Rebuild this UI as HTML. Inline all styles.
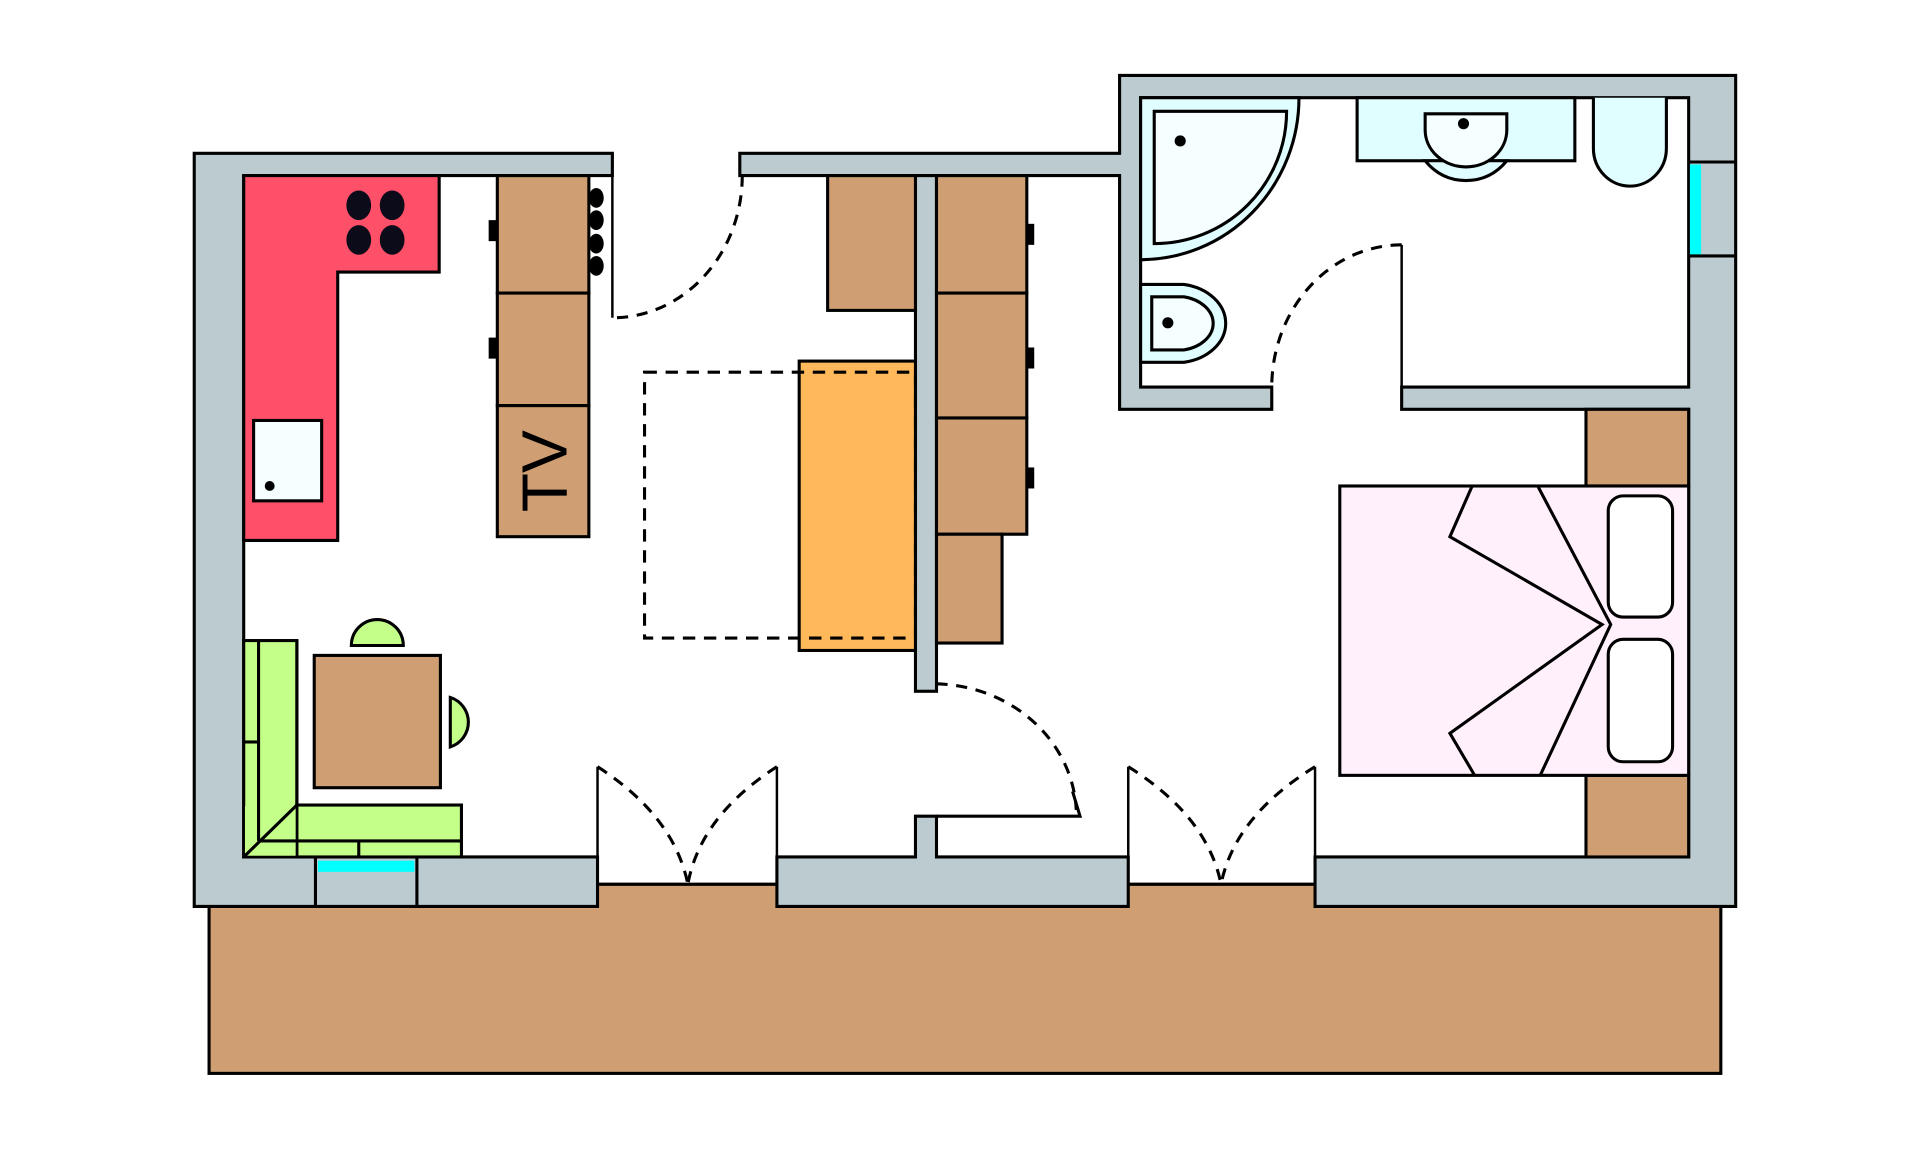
<!DOCTYPE html>
<html><head><meta charset="utf-8"><style>
html,body{margin:0;padding:0;background:#fff;}
svg{display:block;}
</style></head><body>
<svg width="1920" height="1155" viewBox="0 0 1552 934" preserveAspectRatio="none" xmlns="http://www.w3.org/2000/svg">
<g stroke="#000" stroke-width="2.5" stroke-linejoin="miter">
<rect x="169" y="715" width="1222" height="153" fill="#CF9E72"/>
<rect x="197" y="142" width="1168" height="551" fill="#fff" stroke="none"/>
<rect x="922" y="79" width="443" height="240" fill="#fff" stroke="none"/>
<rect x="483" y="680" width="145" height="34" fill="#fff" stroke="none"/>
<rect x="912" y="680" width="151" height="34" fill="#fff" stroke="none"/>
<line x1="483" y1="715" x2="628" y2="715"/>
<line x1="912" y1="715" x2="1063" y2="715"/>

<polygon points="157,124 495,124 495,142 197,142 197,693 483,693 483,733 157,733" fill="#BBCBCF"/>
<rect x="257" y="696" width="78" height="9" fill="#00FFFF" stroke="none"/>
<line x1="255" y1="693" x2="255" y2="733"/>
<line x1="337" y1="693" x2="337" y2="733"/>
<line x1="495" y1="142" x2="495" y2="257" stroke-width="2"/>
<path d="M600,142 A105,115 0 0 1 495,257" fill="none" stroke-dasharray="9,7" stroke-width="2.5"/>

<polygon points="598,124 905,124 905,61 1403,61 1403,733 1063,733 1063,693 1365,693 1365,331 1133,331 1133,313 1365,313 1365,79 922,79 922,313 1028,313 1028,331 905,331 905,142 598,142" fill="#BBCBCF"/>
<rect x="1366" y="133" width="9" height="73" fill="#00FFFF" stroke="none"/>
<line x1="1365" y1="131" x2="1403" y2="131"/>
<line x1="1365" y1="207" x2="1403" y2="207"/>
<line x1="1133" y1="198" x2="1133" y2="313" stroke-width="2"/>
<path d="M1133,198 A105,115 0 0 0 1028,313" fill="none" stroke-dasharray="9,7"/>

<rect x="740" y="142" width="17" height="417" fill="#BBCBCF"/>

<polygon points="628,693 740,693 740,660 757,660 757,693 912,693 912,733 628,733" fill="#BBCBCF"/>
<polyline points="757,660 873,660 867,640" fill="none"/>
<path d="M757,553 A116,107 0 0 1 870,655" fill="none" stroke-dasharray="9,7"/>

<g fill="none" stroke-width="2">
<line x1="483" y1="620" x2="483" y2="693"/>
<line x1="628" y1="620" x2="628" y2="693"/>
<line x1="912" y1="620" x2="912" y2="693"/>
<line x1="1063" y1="620" x2="1063" y2="693"/>
</g>
<g fill="none" stroke-dasharray="9,7">
<path d="M483,620 Q545,660 556,715"/>
<path d="M628,620 Q566,660 556,715"/>
<path d="M912,620 Q976,660 987,715"/>
<path d="M1063,620 Q998,660 987,715"/>
</g>

<polygon points="197,142 355,142 355,220 273,220 273,437 197,437" fill="#FF5069"/>
<g fill="#0b0b1a" stroke="none">
<ellipse cx="290" cy="166" rx="10" ry="12"/><ellipse cx="317" cy="166" rx="10" ry="12"/>
<ellipse cx="290" cy="194" rx="10" ry="12"/><ellipse cx="317" cy="194" rx="10" ry="12"/>
</g>
<rect x="205" y="340" width="55" height="65" fill="#F5FFFF"/>
<circle cx="218" cy="393" r="4" fill="#000" stroke="none"/>

<g fill="#CF9E72">
<rect x="402" y="142" width="74" height="95"/>
<rect x="402" y="237" width="74" height="91"/>
<rect x="402" y="328" width="74" height="106"/>
<rect x="669" y="142" width="71" height="109"/>
<rect x="757" y="142" width="73" height="95"/>
<rect x="757" y="237" width="73" height="101"/>
<rect x="757" y="338" width="73" height="94"/>
<rect x="757" y="432" width="53" height="88"/>
</g>
<g fill="#000" stroke="none">
<rect x="395" y="178" width="6" height="17"/><rect x="395" y="273" width="6" height="17"/>
<rect x="830" y="181" width="6" height="17"/><rect x="830" y="281" width="6" height="17"/><rect x="830" y="378" width="6" height="17"/>
<ellipse cx="482" cy="160" rx="6" ry="8"/><ellipse cx="482" cy="178" rx="6" ry="8"/>
<ellipse cx="482" cy="197" rx="6" ry="8"/><ellipse cx="482" cy="215" rx="6" ry="8"/>
</g>
<text x="0" y="0" transform="translate(458,381) rotate(-90)" text-anchor="middle" font-family="Liberation Sans, sans-serif" font-size="52" fill="#000" stroke="none">TV</text>

<rect x="646" y="292" width="94" height="234" fill="#FFB85A"/>
<rect x="521" y="301" width="219" height="215" fill="none" stroke-dasharray="10,7"/>

<rect x="197" y="518" width="43" height="175" fill="#C4FF8A"/>
<rect x="240" y="651" width="133" height="42" fill="#C4FF8A"/>
<rect x="198" y="652" width="41" height="40" fill="#C4FF8A" stroke="none"/>
<line x1="209" y1="518" x2="209" y2="680"/>
<line x1="197" y1="600" x2="209" y2="600"/>
<line x1="209" y1="680" x2="373" y2="680"/>
<line x1="290" y1="680" x2="290" y2="693"/>
<line x1="240" y1="651" x2="197" y2="693"/>
<line x1="240" y1="518" x2="240" y2="651"/>
<rect x="254" y="530" width="102" height="107" fill="#CF9E72"/>
<path d="M284,522 A21,21 0 0 1 326,522 Z" fill="#C4FF8A"/>
<path d="M364,564 A21,21 0 0 1 364,604 Z" fill="#C4FF8A"/>

<path d="M922,79 H1050 A128,131 0 0 1 922,210 Z" fill="#E0FEFF"/>
<path d="M933,90 H1040 A107,107 0 0 1 933,197 Z" fill="#F5FFFF"/>
<circle cx="954" cy="114" r="4.5" fill="#000" stroke="none"/>
<path d="M922,230 H957 A41,32 0 0 1 957,293 H922 Z" fill="#E0FEFF"/>
<path d="M931,240 H957 A30,22 0 0 1 957,283 H931 Z" fill="#F5FFFF"/>
<circle cx="944" cy="261" r="4.5" fill="#000" stroke="none"/>
<rect x="1097" y="79" width="176" height="51" fill="#E0FEFF"/>
<path d="M1152,130 Q1165,146 1185,146 Q1205,146 1218,130 Z" fill="#E0FEFF"/>
<path d="M1152,92 H1218 V105 A33,30 0 0 1 1152,105 Z" fill="#F5FFFF"/>
<circle cx="1183" cy="100" r="4.5" fill="#000" stroke="none"/>
<path d="M1288,79 V120 A29,30 0 0 0 1347,120 V79" fill="#E0FEFF"/>

<rect x="1282" y="331" width="83" height="62" fill="#CF9E72"/>
<rect x="1282" y="627" width="83" height="66" fill="#CF9E72"/>
<rect x="1083" y="393" width="282" height="234" fill="#FFF0FB"/>
<polyline points="1190,393 1172,434 1295,505 1172,593 1192,627" fill="none"/>
<polyline points="1243,393 1302,505 1245,627" fill="none"/>
<rect x="1300" y="401" width="52" height="98" rx="12" fill="#fff"/>
<rect x="1300" y="517" width="52" height="99" rx="12" fill="#fff"/>
</g>
</svg>
</body></html>
